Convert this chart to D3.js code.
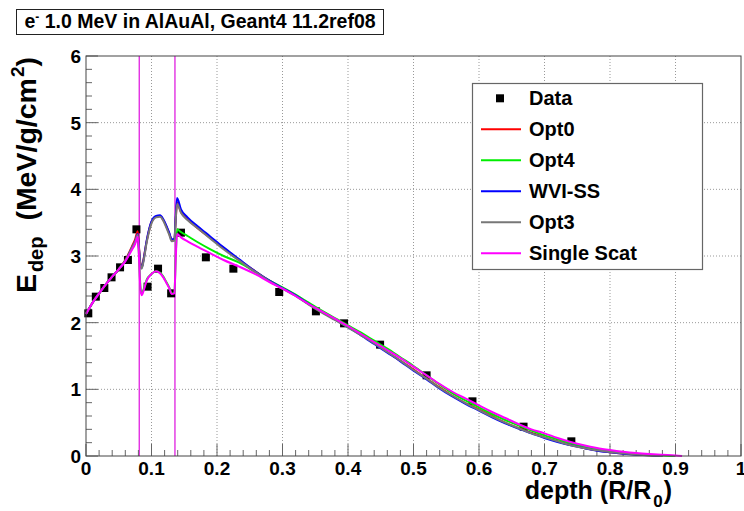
<!DOCTYPE html>
<html><head><meta charset="utf-8">
<script src="https://cdn.jsdelivr.net/npm/d3@7"></script>
<style>body{margin:0;background:#fff}svg{display:block}text{font-family:"Liberation Sans",Arial,Helvetica,sans-serif;font-weight:bold}</style>
</head><body><svg id="c" width="744" height="511"></svg>
<script>
const depth = [0,0.01,0.02,0.03,0.04,0.05,0.06,0.07,0.075,0.079,0.081,0.083,0.085,0.088,0.0926,0.10,0.107,0.113,0.118,0.122,0.127,0.131,0.135,0.137,0.139,0.145,0.155,0.17,0.19,0.21,0.234,0.26,0.28,0.30,0.32,0.34,0.36,0.38,0.40,0.42,0.44,0.46,0.48,0.50,0.52,0.54,0.56,0.58,0.60,0.62,0.64,0.66,0.68,0.70,0.72,0.74,0.76,0.78,0.80,0.82,0.84,0.86,0.88,0.90,0.91];
const opt0 = [2.13,2.30,2.44,2.57,2.69,2.80,2.94,3.14,3.25,3.37,3.12,2.89,2.83,2.96,3.22,3.51,3.59,3.60,3.54,3.46,3.34,3.24,3.25,3.55,3.80,3.66,3.55,3.42,3.27,3.12,2.94,2.76,2.63,2.52,2.41,2.28,2.16,2.05,1.94,1.82,1.70,1.56,1.43,1.30,1.16,1.03,0.90,0.79,0.70,0.60,0.50,0.42,0.35,0.28,0.22,0.17,0.12,0.085,0.058,0.037,0.022,0.011,0.003,null,null];
const opt4 = [2.13,2.30,2.44,2.57,2.69,2.80,2.93,3.11,3.20,3.30,3.00,2.55,2.43,2.50,2.64,2.73,2.77,2.75,2.69,2.62,2.53,2.44,2.45,3.00,3.40,3.36,3.30,3.21,3.10,3.00,2.90,2.75,2.63,2.53,2.42,2.30,2.18,2.07,1.96,1.85,1.73,1.61,1.48,1.35,1.21,1.07,0.94,0.83,0.73,0.63,0.54,0.46,0.38,0.31,0.25,0.19,0.14,0.10,0.07,0.05,0.03,0.015,0.006,0.0,null];
const wviss = [2.13,2.30,2.44,2.57,2.69,2.80,2.93,3.12,3.22,3.33,3.10,2.88,2.82,2.95,3.23,3.52,3.60,3.61,3.55,3.47,3.35,3.25,3.26,3.60,3.87,3.70,3.58,3.45,3.29,3.13,2.95,2.76,2.63,2.52,2.41,2.28,2.16,2.05,1.93,1.81,1.68,1.55,1.42,1.28,1.15,1.01,0.89,0.78,0.68,0.58,0.49,0.41,0.34,0.27,0.21,0.16,0.12,0.08,0.055,0.035,0.02,0.01,0.003,null,null];
const opt3 = [2.13,2.30,2.44,2.57,2.69,2.80,2.93,3.12,3.22,3.32,3.08,2.87,2.81,2.93,3.20,3.49,3.58,3.59,3.53,3.44,3.32,3.22,3.23,3.55,3.78,3.65,3.54,3.42,3.26,3.10,2.93,2.75,2.62,2.51,2.40,2.27,2.15,2.04,1.93,1.81,1.69,1.56,1.43,1.29,1.16,1.02,0.90,0.79,0.69,0.59,0.50,0.42,0.34,0.28,0.22,0.16,0.12,0.085,0.06,0.04,0.022,0.01,0.0,null,null];
const singleScat = [2.13,2.30,2.44,2.57,2.69,2.80,2.92,3.09,3.18,3.29,2.95,2.52,2.41,2.48,2.63,2.73,2.77,2.74,2.68,2.61,2.52,2.43,2.44,2.95,3.33,3.28,3.22,3.14,3.04,2.94,2.84,2.72,2.61,2.51,2.40,2.28,2.17,2.06,1.95,1.83,1.71,1.59,1.47,1.34,1.21,1.08,0.96,0.86,0.76,0.66,0.57,0.48,0.40,0.34,0.27,0.21,0.16,0.12,0.09,0.065,0.045,0.03,0.018,0.008,0.0];
const dataX = [0.0035,0.015,0.028,0.039,0.052,0.064,0.077,0.094,0.11,0.13,0.145,0.183,0.225,0.295,0.351,0.394,0.449,0.52,0.59,0.668,0.741];
const dataY = [2.14,2.39,2.52,2.68,2.83,2.94,3.40,2.54,2.81,2.44,3.35,2.98,2.81,2.46,2.17,1.99,1.67,1.21,0.82,0.44,0.22];
const boundaries = [0.0813,0.1358];
const seriesNames = ["Opt0","Opt4","WVI-SS","Opt3","Single Scat"];
const seriesColors = ["#ff0000","#00ee00","#0000ff","#777777","#ff00ff"];
const seriesValues = [opt0,opt4,wviss,opt3,singleScat];
const xTicks = [0,0.1,0.2,0.3,0.4,0.5,0.6,0.7,0.8,0.9,1];
const xTickLabels = ["0","0.1","0.2","0.3","0.4","0.5","0.6","0.7","0.8","0.9","1"];
const yTicks = [0,1,2,3,4,5,6];
const titleText = " 1.0 MeV in AlAuAl, Geant4 11.2ref08";

const svg = d3.select("#c");
const L=86,R=741,T=56,B=456;
const x = d3.scaleLinear().domain([0,1]).range([L,R]);
const y = d3.scaleLinear().domain([0,6]).range([B,T]);

svg.append("rect").attr("width",744).attr("height",511).attr("fill","#fff");

// grid
const g = svg.append("g");
g.selectAll(".gx").data(xTicks.slice(1,-1)).join("line")
  .attr("x1",d=>x(d)).attr("x2",d=>x(d)).attr("y1",T).attr("y2",B)
  .attr("stroke","#999").attr("stroke-dasharray","1,2");
g.selectAll(".gy").data(yTicks.slice(1,-1)).join("line")
  .attr("y1",d=>y(d)).attr("y2",d=>y(d)).attr("x1",L).attr("x2",R)
  .attr("stroke","#999").attr("stroke-dasharray","1,2");

// boundaries
svg.selectAll(".bd").data(boundaries).join("line")
  .attr("x1",d=>x(d)).attr("x2",d=>x(d)).attr("y1",y(0)).attr("y2",y(6))
  .attr("stroke","#e020e0").attr("stroke-width",1.3);

// axes ticks
const xMinor = d3.range(0,1.0001,0.02);
svg.append("g").selectAll("line").data(xMinor).join("line")
  .attr("x1",d=>x(d)).attr("x2",d=>x(d)).attr("y1",B)
  .attr("y2",(d,i)=> i%5===0 ? B-12 : B-6).attr("stroke","#666");
const yMinor = d3.range(0,6.0001,0.2);
svg.append("g").selectAll("line").data(yMinor).join("line")
  .attr("y1",d=>y(d)).attr("y2",d=>y(d)).attr("x1",L)
  .attr("x2",(d,i)=> i%5===0 ? L+12 : L+6).attr("stroke","#666");

svg.append("g").selectAll("text").data(xTicks).join("text")
  .attr("x",d=>x(d)).attr("y",475).attr("text-anchor","middle")
  .attr("font-size",19).text((d,i)=>xTickLabels[i]);
svg.append("g").selectAll("text").data(yTicks).join("text")
  .attr("x",81).attr("y",d=>y(d)+7).attr("text-anchor","end")
  .attr("font-size",19).text(d=>d);

// data points
svg.append("g").selectAll("rect").data(dataX).join("rect")
  .attr("x",(d)=>x(d)-4).attr("y",(d,i)=>y(dataY[i])-4).attr("width",8).attr("height",8).attr("fill","#000");

// curves
const line = d3.line().defined(d=>d[1]!==null).x(d=>x(d[0])).y(d=>y(d[1])).curve(d3.curveMonotoneX);
seriesValues.forEach((vals,k)=>{
  svg.append("path").datum(depth.map((dx,i)=>[dx,vals[i]]))
    .attr("d",line).attr("fill","none").attr("stroke",seriesColors[k]).attr("stroke-width",2);
});

// frame
svg.append("rect").attr("x",L).attr("y",T).attr("width",R-L).attr("height",B-T)
  .attr("fill","none").attr("stroke","#444").attr("stroke-width",1);

// title box
svg.append("rect").attr("x",16.5).attr("y",9.5).attr("width",367).attr("height",25)
  .attr("fill","#fff").attr("stroke","#222");
const tt = svg.append("text").attr("x",200).attr("y",28).attr("text-anchor","middle").attr("font-size",19.5);
tt.append("tspan").text("e");
tt.append("tspan").attr("font-size",12).attr("dy",-7).text("-");
tt.append("tspan").attr("dy",7).text(titleText);

// legend
svg.append("rect").attr("x",472.5).attr("y",83.5).attr("width",230).attr("height",186)
  .attr("fill","#fff").attr("stroke","#666").attr("stroke-width",1.2);
const rowY = d=>98.3+31*d;
svg.append("rect").attr("x",496).attr("y",rowY(0)-4).attr("width",8).attr("height",8).attr("fill","#000");
svg.append("text").attr("x",529).attr("y",rowY(0)+7).attr("font-size",20).text("Data");
seriesNames.forEach((n,k)=>{
  svg.append("line").attr("x1",481).attr("x2",521).attr("y1",rowY(k+1)).attr("y2",rowY(k+1))
    .attr("stroke",seriesColors[k]).attr("stroke-width",2);
  svg.append("text").attr("x",529).attr("y",rowY(k+1)+7).attr("font-size",20).text(n);
});

// x title
const xt = svg.append("text").attr("x",672).attr("y",499).attr("text-anchor","end").attr("font-size",25);
xt.append("tspan").text("depth (R/R");
xt.append("tspan").attr("font-size",17).attr("dy",8).attr("dx",2).text("0");
xt.append("tspan").attr("dy",-8).attr("dx",1).text(")");

// y title
const yt = svg.append("text").attr("transform","translate(36,57) rotate(-90)").attr("text-anchor","end").attr("font-size",28.5);
yt.append("tspan").text("E");
yt.append("tspan").attr("font-size",20).attr("dy",7).attr("dx",2).text("dep");
yt.append("tspan").attr("dy",-7).attr("dx",8).text(" (MeV/g/cm");
yt.append("tspan").attr("font-size",19).attr("dy",-12).attr("dx",1).text("2");
yt.append("tspan").attr("dy",12).text(")");
</script></body></html>
